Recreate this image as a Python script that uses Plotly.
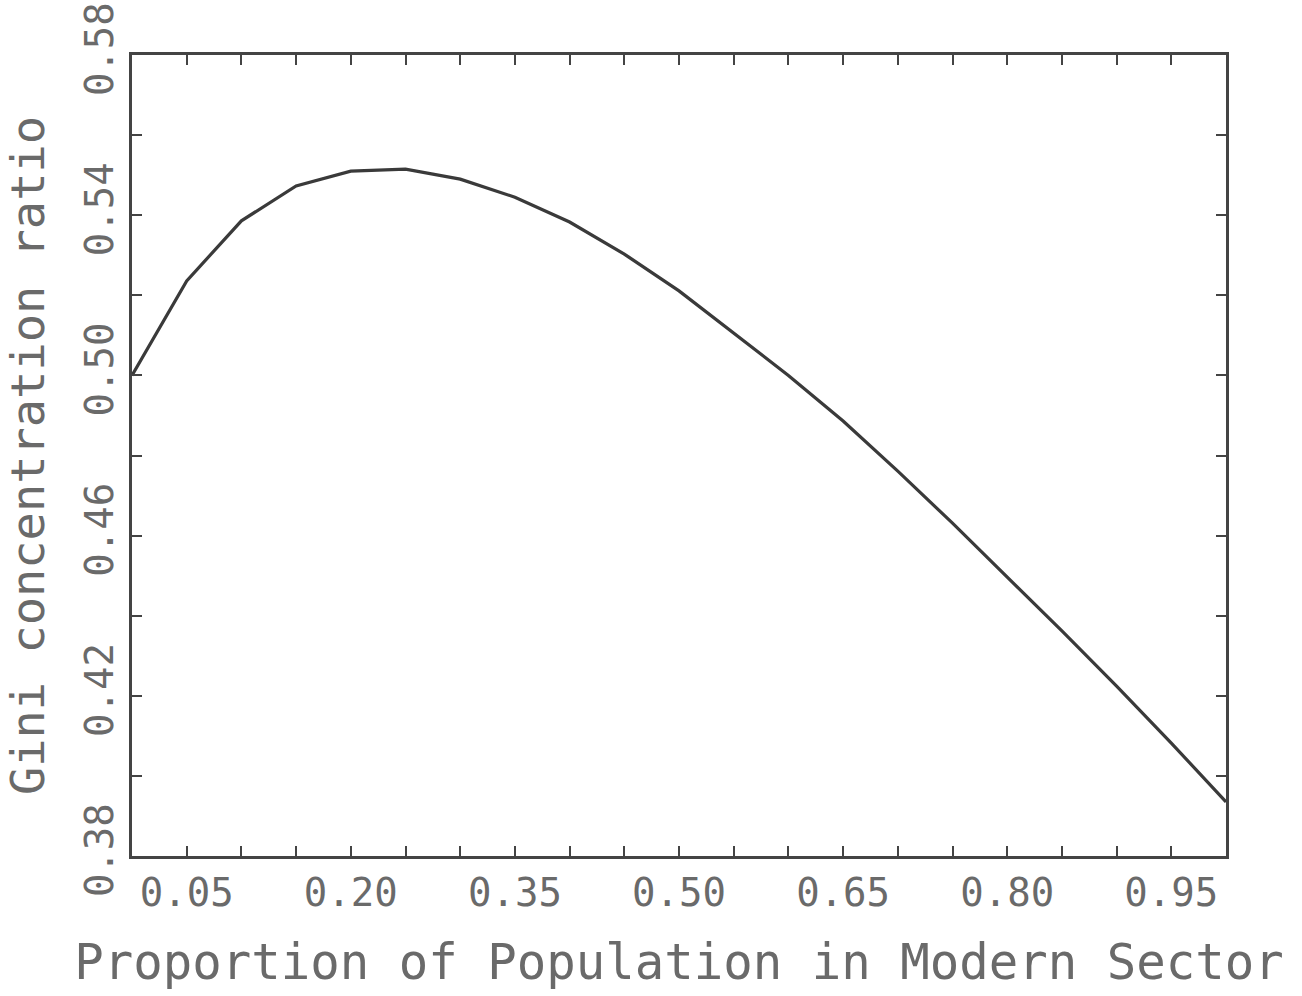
import plotly.graph_objects as go

# Data
proportion = [0.00, 0.05, 0.10, 0.15, 0.20, 0.25, 0.30, 0.35, 0.40, 0.45, 0.50,
              0.55, 0.60, 0.65, 0.70, 0.75, 0.80, 0.85, 0.90, 0.95, 1.00]
gini = [0.5000, 0.5236, 0.5386, 0.5473, 0.5510, 0.5515, 0.5490, 0.5445, 0.5383, 0.5303, 0.5211,
        0.5106, 0.5000, 0.4886, 0.4761, 0.4631, 0.4497, 0.4362, 0.4224, 0.4082, 0.3935]

x_tick_vals = [0.05, 0.10, 0.15, 0.20, 0.25, 0.30, 0.35, 0.40, 0.45, 0.50,
               0.55, 0.60, 0.65, 0.70, 0.75, 0.80, 0.85, 0.90, 0.95]
x_tick_text = ["0.05", "", "", "0.20", "", "", "0.35", "", "", "0.50",
               "", "", "0.65", "", "", "0.80", "", "", "0.95"]
y_tick_vals = [0.38, 0.40, 0.42, 0.44, 0.46, 0.48, 0.50, 0.52, 0.54, 0.56, 0.58]
y_tick_text = ["0.38", "", "0.42", "", "0.46", "", "0.50", "", "0.54", "", "0.58"]

FONT = "DejaVu Sans Mono"
TXT = "#6a6a6a"
AX = "#444444"

fig = go.Figure()
fig.add_trace(go.Scatter(x=proportion, y=gini, mode="lines",
                         line=dict(color="#3a3a3a", width=3.2), showlegend=False))

fig.update_layout(
    width=1302, height=996,
    margin=dict(l=132, r=76, t=55, b=140),
    paper_bgcolor="white", plot_bgcolor="white",
    font=dict(family=FONT, color=TXT, weight=200),
)
fig.update_xaxes(
    range=[0, 1.0], showgrid=False, zeroline=False, automargin=False,
    showline=True, linecolor=AX, linewidth=3, mirror="allticks",
    ticks="inside", ticklen=10, tickwidth=2, tickcolor=AX,
    tickvals=x_tick_vals, ticktext=x_tick_text,
    tickfont=dict(family=FONT, size=39, color=TXT, weight=200),
    ticklabelstandoff=0,
    title=dict(text="Proportion of Population in Modern Sector",
               font=dict(family=FONT, size=49, color=TXT, weight=200), standoff=31),
)
fig.update_yaxes(
    range=[0.38, 0.58], showgrid=False, zeroline=False, automargin=False,
    showline=True, linecolor=AX, linewidth=3, mirror="allticks",
    ticks="inside", ticklen=10, tickwidth=2, tickcolor=AX,
    tickvals=y_tick_vals, ticktext=y_tick_text, tickangle=-90,
    tickfont=dict(family=FONT, size=39, color=TXT, weight=200),
    ticklabelstandoff=0,
    title=dict(text="Gini concentration ratio",
               font=dict(family=FONT, size=47, color=TXT, weight=200), standoff=19),
)

fig.write_html("out.html")
